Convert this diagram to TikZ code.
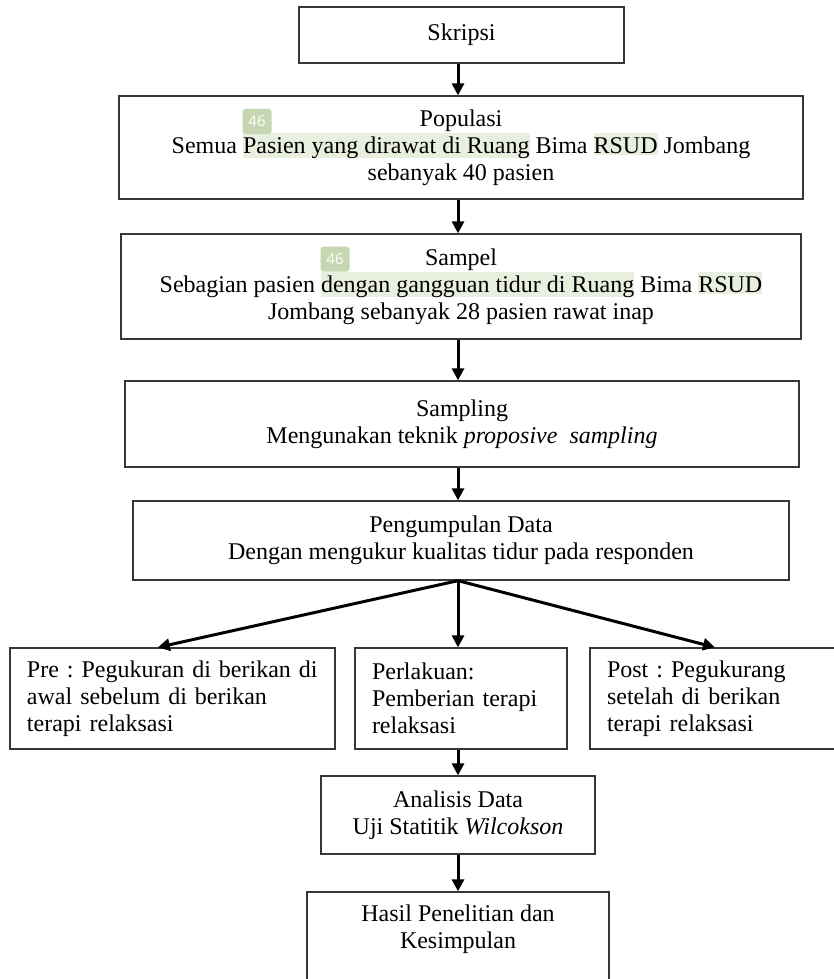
\documentclass[tikz,border=0pt]{standalone}
\usepackage{fontspec}
\setmainfont{Liberation Serif}
\newfontfamily\badgefont{Open Sans}
\usetikzlibrary{arrows.meta,calc}
\frenchspacing
\definecolor{hl}{RGB}{233,239,223}
\definecolor{badgec}{RGB}{198,214,177}
\definecolor{boxline}{RGB}{55,55,55}
\newcommand{\hlt}[1]{{\setlength{\fboxsep}{0pt}\colorbox{hl}{\vrule height 20pt depth 2pt width 0pt #1}}}
\begin{document}
\begin{tikzpicture}[x=1pt,y=-1pt,
  box/.style={draw=boxline, line width=1.3pt, fill=white, inner sep=0pt, align=center,
    font=\fontsize{24}{27}\selectfont},
  lbox/.style={draw=boxline, line width=1.3pt, fill=white, inner xsep=17pt, inner ysep=0pt,
    align=left, font=\fontsize{24}{27}\selectfont\frenchspacing},
  plain/.style={inner sep=0pt, align=center, font=\fontsize{24}{27}\selectfont},
  arr/.style={line width=3pt, -{Triangle[length=12pt,width=12pt]}},
  badge/.style={fill=badgec, rounded corners=3pt, text=white,
    font=\badgefont\fontsize{15}{15}\selectfont, minimum width=29pt, minimum height=25pt, inner sep=0pt}]
\useasboundingbox (0,0) rectangle (834,979);
\clip (0,0) rectangle (834,979);
\coordinate (ax) at (458,0);

\node[box, minimum width=325pt, minimum height=56pt] (skripsi) at (461.5,35) {Skripsi};

\node[box, minimum width=684pt, minimum height=103pt] (populasi) at (461,147.5)
  {Populasi\\Semua \hlt{Pasien yang dirawat di Ruang} Bima \hlt{RSUD} Jombang\\sebanyak 40 pasien};
\node[badge] (badge1) at (257,121.5) {46};

\node[box, minimum width=680pt, minimum height=105pt] (sampel) at (461,286.5)
  {Sampel\\Sebagian pasien \hlt{dengan gangguan tidur di Ruang} Bima \hlt{RSUD}\\Jombang sebanyak 28 pasien rawat inap};
\node[badge] (badge2) at (335,259) {46};

\node[box, minimum width=674pt, minimum height=86pt] (sampling) at (462,424)
  {Sampling\\Mengunakan teknik \textit{proposive\ \ sampling}};

\node[box, minimum width=656pt, minimum height=79pt] (kumpul) at (461,540.5)
  {Pengumpulan Data\\Dengan mengukur kualitas tidur pada responden};

\node[lbox, minimum width=325pt, minimum height=101pt, text width=291pt] (pre) at (172.5,698.5)
  {Pre : Pegukuran di berikan di\\awal sebelum di berikan\\terapi relaksasi};
\node[lbox, minimum width=212pt, minimum height=101pt, text width=178pt] (perlakuan) at (461,698.5)
  {Perlakuan:\\Pemberian terapi\\relaksasi};
\node[lbox, minimum width=270pt, minimum height=101pt, text width=236pt] (post) at (725,698.5)
  {Post : Pegukurang\\setelah di berikan\\terapi relaksasi};

\node[box, minimum width=274pt, minimum height=78pt] (analisis) at (458,815)
  {Analisis Data\\Uji Statitik \textit{Wilcokson}};

\node[box, minimum width=302pt, minimum height=118pt] (hasil) at (458,951) {};
\node[plain] (hasiltext) at (458,929) {Hasil Penelitian dan\\Kesimpulan};

\draw[arr] (skripsi.south -| ax) -- (populasi.north -| ax);
\draw[arr] (populasi.south -| ax) -- (sampel.north -| ax);
\draw[arr] (sampel.south -| ax) -- (sampling.north -| ax);
\draw[arr] (sampling.south -| ax) -- (kumpul.north -| ax);
\draw[arr] (kumpul.south -| ax) -- ($(pre.north west)!0.455!(pre.north east)$);
\draw[arr] (kumpul.south -| ax) -- (perlakuan.north -| ax);
\draw[arr] (kumpul.south -| ax) -- ($(post.north west)!0.463!(post.north east)$);
\draw[arr] (perlakuan.south -| ax) -- (analisis.north -| ax);
\draw[arr] (analisis.south -| ax) -- (hasil.north -| ax);
\end{tikzpicture}
\end{document}
